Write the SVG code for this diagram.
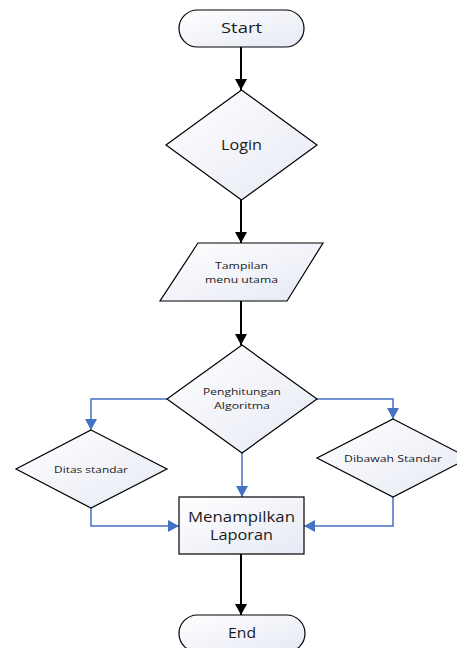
<svg xmlns="http://www.w3.org/2000/svg" width="457" height="648" viewBox="0 0 457 648">
<style>
.shape{stroke:#000;stroke-width:1.2;fill:url(#g)}
.t{font-family:"Open Sans","Noto Sans",sans-serif;fill:#1a1a1a;text-anchor:middle}
.big{font-size:14px}
.small{font-size:9.5px}
.blk{stroke:#000;stroke-width:2;fill:none}
.blu{stroke:#4472c4;stroke-width:1.5;fill:none}
</style>
<defs>
<linearGradient id="g" x1="0" y1="0" x2="1" y2="1">
<stop offset="0" stop-color="#ffffff"/>
<stop offset="1" stop-color="#e6e9f4"/>
</linearGradient>
<marker id="ab" markerUnits="userSpaceOnUse" markerWidth="12" markerHeight="12" refX="11" refY="6" orient="auto">
<path d="M0,0 L11,6 L0,12 Z" fill="#000"/>
</marker>
<marker id="au" markerUnits="userSpaceOnUse" markerWidth="12" markerHeight="12" refX="11" refY="6" orient="auto">
<path d="M0,0 L11,6 L0,12 Z" fill="#4472c4"/>
</marker>
</defs>
<g id="connectors">
<path class="blk" d="M241,47 V90" marker-end="url(#ab)"/>
<path class="blk" d="M241,200 V243" marker-end="url(#ab)"/>
<path class="blk" d="M241,301 V345" marker-end="url(#ab)"/>
<path class="blu" d="M167,399 H91 V430" marker-end="url(#au)"/>
<path class="blu" d="M317,399 H393 V419" marker-end="url(#au)"/>
<path class="blu" d="M242,453 V497" marker-end="url(#au)"/>
<path class="blu" d="M91,508 V526 H179" marker-end="url(#au)"/>
<path class="blu" d="M393,497 V526 H304" marker-end="url(#au)"/>
<path class="blk" d="M241,554 V615" marker-end="url(#ab)"/>
</g>
<g id="start">
<rect class="shape" x="179" y="10" width="125" height="37" rx="18.5"/>
<text class="t big" x="241.5" y="33" textLength="41" lengthAdjust="spacingAndGlyphs">Start</text>
</g>
<g id="login">
<polygon class="shape" points="241.5,90 317,145 241.5,200 166,145"/>
<text class="t big" x="241.5" y="150" textLength="41" lengthAdjust="spacingAndGlyphs">Login</text>
</g>
<g id="tampilan">
<polygon class="shape" points="198,243 323,243 287,301 160,301"/>
<text class="t small" x="241.5" y="269" textLength="53" lengthAdjust="spacingAndGlyphs">Tampilan</text>
<text class="t small" x="241.5" y="283" textLength="73" lengthAdjust="spacingAndGlyphs">menu utama</text>
</g>
<g id="penghitungan">
<polygon class="shape" points="242,345 317,399 242,453 167,399"/>
<text class="t small" x="242" y="395" textLength="78" lengthAdjust="spacingAndGlyphs">Penghitungan</text>
<text class="t small" x="242" y="409" textLength="56" lengthAdjust="spacingAndGlyphs">Algoritma</text>
</g>
<g id="ditas">
<polygon class="shape" points="91,430 167,469 91,508 16,469"/>
<text class="t small" x="91" y="473" textLength="74" lengthAdjust="spacingAndGlyphs">Ditas standar</text>
</g>
<g id="dibawah">
<polygon class="shape" points="393,419 469,458 393,497 317,458"/>
<text class="t small" x="393" y="462" textLength="98" lengthAdjust="spacingAndGlyphs">Dibawah Standar</text>
</g>
<g id="menampilkan">
<rect class="shape" x="179" y="497" width="125" height="57"/>
<text class="t big" x="241.5" y="522" textLength="107" lengthAdjust="spacingAndGlyphs">Menampilkan</text>
<text class="t big" x="241.5" y="540" textLength="63" lengthAdjust="spacingAndGlyphs">Laporan</text>
</g>
<g id="end">
<rect class="shape" x="179" y="615" width="126" height="37" rx="18.5"/>
<text class="t big" x="242" y="638" textLength="28" lengthAdjust="spacingAndGlyphs">End</text>
</g>
</svg>
